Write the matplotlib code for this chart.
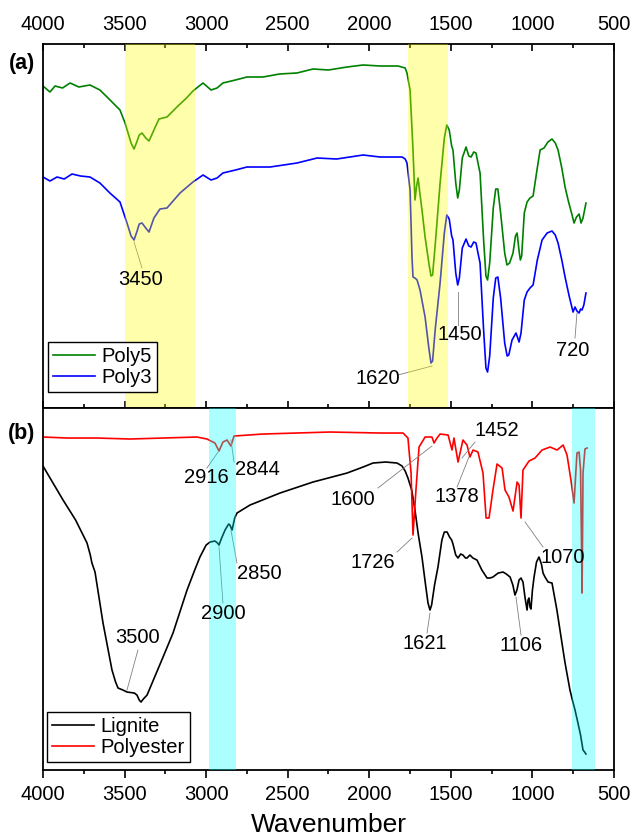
import matplotlib
matplotlib.use('Agg')
import matplotlib.pyplot as plt
from matplotlib.ticker import MultipleLocator

plt.rcParams['font.family'] = ['Liberation Sans', 'DejaVu Sans']

# (a) Poly5 / Poly3, arbitrary intensity
poly5_wn = [4000, 3957, 3926, 3880, 3834, 3780, 3712, 3651, 3589, 3528, 3497, 3460, 3442, 3425,
            3410, 3393, 3370, 3350, 3320, 3289, 3240, 3179, 3120, 3081, 3019, 2970, 2933, 2897,
            2820, 2750, 2651, 2550, 2443, 2345, 2250, 2136, 2038, 1934, 1824, 1780, 1769, 1750,
            1732, 1720, 1710, 1701, 1690, 1677, 1658, 1635, 1622, 1612, 1595, 1566, 1540, 1525,
            1510, 1495, 1487, 1470, 1458, 1448, 1430, 1407, 1390, 1376, 1360, 1346, 1330, 1321,
            1300, 1285, 1275, 1262, 1240, 1225, 1212, 1195, 1170, 1156, 1140, 1119, 1104, 1094,
            1082, 1074, 1066, 1050, 1033, 1015, 996, 975, 953, 929, 905, 880, 860, 843,
            820, 800, 780, 757, 745, 730, 714, 702, 690, 672]
poly5_y = [322, 316, 322, 320, 325, 321, 323, 318, 308, 298, 285, 265, 259, 266,
           273, 275, 270, 267, 278, 289, 291, 301, 310, 317, 325, 318, 320, 325,
           328, 331, 331, 334, 335, 339, 338, 341, 343, 342, 342, 340, 335, 318,
           258, 208, 222, 230, 215, 198, 171, 145, 132, 133, 165, 225, 270, 283,
           278, 262, 258, 225, 210, 218, 250, 261, 252, 251, 256, 255, 242, 235,
           170, 132, 128, 145, 200, 219, 219, 195, 155, 143, 145, 155, 172, 175,
           157, 148, 152, 195, 206, 210, 212, 235, 258, 260, 266, 269, 265, 258,
           240, 221, 207, 193, 185, 191, 194, 185, 190, 205]

poly3_wn = [4000, 3957, 3914, 3870, 3822, 3770, 3712, 3651, 3590, 3528, 3485, 3460, 3442, 3425,
            3410, 3393, 3370, 3350, 3320, 3283, 3240, 3160, 3081, 3019, 2970, 2933, 2897, 2820,
            2750, 2608, 2443, 2320, 2200, 2038, 1934, 1799, 1780, 1769, 1750, 1738, 1732, 1720,
            1707, 1689, 1658, 1635, 1622, 1612, 1595, 1566, 1540, 1525, 1510, 1495, 1487, 1470,
            1458, 1448, 1430, 1407, 1390, 1376, 1360, 1346, 1330, 1321, 1300, 1285, 1275, 1262,
            1240, 1225, 1212, 1195, 1170, 1155, 1145, 1125, 1101, 1090, 1082, 1070, 1050, 1033,
            1015, 996, 970, 941, 910, 880, 860, 843, 820, 800, 775, 751, 739, 727,
            714, 705, 696, 685, 672]
poly3_y = [231, 227, 231, 229, 234, 232, 231, 225, 215, 206, 185, 172, 168, 176,
           184, 185, 180, 176, 190, 199, 200, 215, 226, 233, 228, 230, 235, 238,
           241, 241, 245, 250, 249, 253, 251, 251, 249, 245, 218, 150, 131, 130,
           128, 118, 91, 60, 45, 47, 80, 125, 175, 193, 189, 172, 168, 135,
           123, 130, 160, 169, 162, 161, 166, 165, 152, 145, 80, 40, 36, 52,
           110, 130, 131, 110, 65, 52, 53, 68, 75, 70, 66, 75, 108, 116,
           120, 123, 148, 168, 175, 177, 173, 165, 148, 131, 112, 96, 101, 97,
           95, 99, 98, 103, 115]

# (b) Lignite / Polyester, arbitrary intensity
lignite_wn = [4000, 3877, 3800, 3730, 3710, 3700, 3681, 3632, 3577, 3555, 3540, 3510, 3485, 3440,
              3424, 3410, 3399, 3385, 3362, 3264, 3203, 3117, 3070, 3038, 3000, 2976, 2946, 2930,
              2921, 2905, 2884, 2862, 2854, 2841, 2825, 2811, 2731, 2547, 2345, 2136, 2038, 1977,
              1900, 1830, 1799, 1780, 1763, 1740, 1720, 1700, 1677, 1655, 1640, 1628, 1618, 1600,
              1579, 1555, 1540, 1523, 1508, 1495, 1487, 1470, 1456, 1440, 1426, 1410, 1401, 1383,
              1365, 1340, 1310, 1278, 1260, 1242, 1210, 1180, 1160, 1137, 1120, 1107, 1095, 1082,
              1070, 1058, 1045, 1033, 1027, 1021, 1015, 1009, 1000, 990, 975, 960, 945, 935,
              923, 904, 880, 850, 819, 800, 770, 755, 739, 721, 705, 690, 680, 672]
lignite_y = [304, 270, 250, 227, 215, 207, 198, 147, 100, 88, 82, 80, 78, 77,
             75, 70, 68, 71, 75, 113, 137, 180, 200, 213, 225, 228, 229, 227,
             225, 232, 240, 246, 245, 240, 252, 257, 265, 277, 288, 297, 303, 307,
             308, 307, 304, 299, 292, 280, 260, 236, 213, 185, 167, 160, 165, 185,
             203, 230, 238, 238, 233, 230, 226, 215, 212, 216, 215, 212, 212, 215,
             212, 210, 200, 192, 192, 193, 197, 198, 196, 193, 185, 175, 180, 190,
             192, 188, 172, 160, 170, 172, 163, 161, 180, 193, 208, 213, 206, 197,
             193, 188, 187, 160, 127, 107, 80, 70, 60, 47, 35, 20, 18, 16]

polyester_wn = [4000, 3850, 3669, 3467, 3264, 3056, 2995, 2946, 2921, 2897, 2872, 2848, 2829, 2651,
                2241, 1934, 1793, 1763, 1744, 1732, 1714, 1695, 1658, 1616, 1603, 1585, 1566, 1517,
                1493, 1481, 1456, 1426, 1401, 1383, 1364, 1334, 1303, 1284, 1266, 1242, 1217, 1186,
                1168, 1144, 1119, 1094, 1082, 1070, 1058, 1021, 984, 941, 892, 849, 812, 788,
                764, 745, 727, 714, 705, 698, 696, 694, 690, 678, 665]
polyester_y = [333, 332, 332, 331, 332, 333, 331, 327, 319, 328, 330, 324, 334, 336,
               338, 337, 337, 332, 297, 235, 280, 323, 333, 333, 327, 332, 336, 335,
               320, 332, 308, 330, 325, 313, 320, 318, 297, 252, 252, 280, 306, 302,
               280, 273, 259, 288, 285, 252, 300, 309, 312, 320, 323, 320, 325, 315,
               290, 267, 317, 318, 300, 210, 177, 210, 297, 321, 322]

# label text, text position, line start, line end
ann_a = [('3450', 3399, 129, 3442, 166, 3393, 140),
         ('1620', 1946, 30, 1824, 33, 1616, 42),
         ('1450', 1444, 74, 1456, 83, 1456, 116),
         ('720', 751, 58, 739, 70, 727, 95)]
ann_b = [('2916', 3001, 293, 2995, 302, 2927, 318),
         ('2844', 2688, 301, 2829, 308, 2848, 330),
         ('2900', 2897, 157, 2897, 167, 2921, 223),
         ('2850', 2676, 197, 2811, 207, 2848, 240),
         ('3500', 3418, 133, 3418, 120, 3485, 80),
         ('1600', 2100, 271, 1947, 282, 1616, 324),
         ('1452', 1217, 340, 1352, 328, 1432, 312),
         ('1378', 1462, 274, 1462, 283, 1389, 313),
         ('1726', 1977, 208, 1830, 218, 1738, 232),
         ('1070', 813, 213, 935, 223, 1045, 248),
         ('1621', 1658, 127, 1646, 137, 1628, 157),
         ('1106', 1070, 125, 1070, 135, 1101, 173)]

yellow_bands = [(3070, 3500), (1520, 1760)]
cyan_bands = [(2815, 2980), (615, 755)]

fs = 14.5
fig = plt.figure(figsize=(6.33, 8.38), dpi=100)
ax1 = fig.add_axes([0.0679, 0.5131, 0.9021, 0.4344])
ax2 = fig.add_axes([0.0679, 0.0811, 0.9021, 0.4320])

ax1.plot(poly5_wn, poly5_y, color='green', lw=1.2, label='Poly5')
ax1.plot(poly3_wn, poly3_y, color='blue', lw=1.2, label='Poly3')
for lo, hi in yellow_bands:
    ax1.axvspan(lo, hi, color='yellow', alpha=0.33, lw=0, zorder=3)

ax2.plot(lignite_wn, lignite_y, color='black', lw=1.2, label='Lignite')
ax2.plot(polyester_wn, polyester_y, color='red', lw=1.2, label='Polyester')
for lo, hi in cyan_bands:
    ax2.axvspan(lo, hi, color='cyan', alpha=0.33, lw=0, zorder=3)

for ax, anns in ((ax1, ann_a), (ax2, ann_b)):
    for t, tx, ty, x0, y0, x1, y1 in anns:
        ax.text(tx, ty, t, fontsize=fs, ha='center', va='center')
        ax.plot([x0, x1], [y0, y1], color='gray', lw=0.6)

for ax in (ax1, ax2):
    ax.set_xlim(4000, 500)
    ax.set_ylim(0, 364)
    ax.set_yticks([])
    ax.xaxis.set_major_locator(MultipleLocator(500))
    ax.xaxis.set_minor_locator(MultipleLocator(250))
    for s in ax.spines.values():
        s.set_linewidth(1.3)

ax1.tick_params(axis='x', which='both', direction='in', top=True, bottom=True,
                labeltop=True, labelbottom=False, labelsize=fs, pad=7)
ax1.tick_params(axis='x', which='major', length=5, width=1.2)
ax1.tick_params(axis='x', which='minor', length=3, width=1.2)
ax2.set_ylim(0, 362)
ax2.tick_params(axis='x', which='both', direction='out', top=False, bottom=True,
                labelsize=fs, pad=5)
ax2.tick_params(axis='x', which='major', length=5.5, width=1.2)
ax2.tick_params(axis='x', which='minor', length=3, width=1.2)
ax2.set_xlabel('Wavenumber', fontsize=19, labelpad=7)

leg_kw = dict(fontsize=fs, loc='lower left', borderaxespad=0, fancybox=False,
              edgecolor='black', framealpha=1, handlelength=2.1, handletextpad=0.3,
              labelspacing=0.12, borderpad=0.25)
l1 = ax1.legend(bbox_to_anchor=(0.009, 0.044), **leg_kw)
l2 = ax2.legend(bbox_to_anchor=(0.007, 0.022), **leg_kw)
for l in (l1, l2):
    l.get_frame().set_linewidth(1.0)
    l.set_zorder(5)

fig.text(22 / 633, 1 - 64 / 838, '(a)', fontsize=15.5, fontweight='bold', ha='center', va='center')
fig.text(22 / 633, 1 - 433 / 838, '(b)', fontsize=15.5, fontweight='bold', ha='center', va='center')

fig.savefig('out.png', dpi=100)
